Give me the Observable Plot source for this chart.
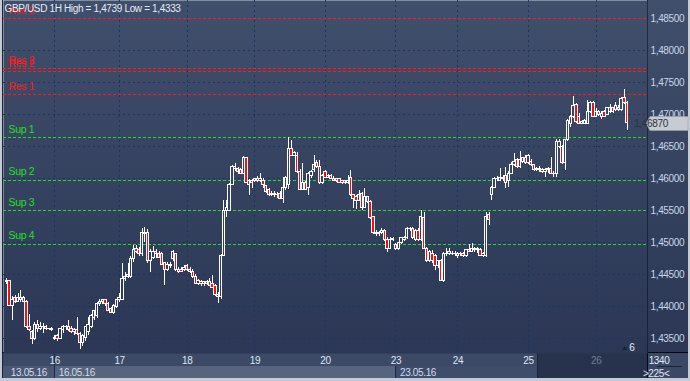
<!DOCTYPE html>
<html><head><meta charset="utf-8">
<script src="https://cdn.jsdelivr.net/npm/d3@7"></script>
<script src="https://cdn.jsdelivr.net/npm/@observablehq/plot@0.6"></script>
<style>html,body{margin:0;padding:0;background:#c5cbd5;overflow:hidden}#chart svg{display:block}</style>
</head><body><div id="chart"></div>
<script>
const title = "GBP/USD 1H High = 1,4739 Low = 1,4333";
const opens = [
1.4438,1.4440,1.4402,1.4413,1.4408,1.4411,1.4413,1.4408,1.4368,1.4361,
1.4349,1.4371,1.4366,1.4368,1.4369,1.4365,1.4365,1.4349,1.4354,1.4350,
1.4363,1.4368,1.4369,1.4366,1.4360,1.4363,1.4357,1.4343,1.4352,1.4360,
1.4368,1.4382,1.4385,1.4405,1.4408,1.4410,1.4405,1.4396,1.4391,1.4400,
1.4410,1.4411,1.4443,1.4446,1.4447,1.4475,1.4491,1.4488,1.4482,1.4513,
1.4516,1.4471,1.4477,1.4485,1.4483,1.4482,1.4468,1.4457,1.4466,1.4474,
1.4482,1.4458,1.4458,1.4457,1.4463,1.4458,1.4454,1.4447,1.4436,1.4438,
1.4436,1.4438,1.4438,1.4435,1.4432,1.4418,1.4416,1.4480,1.4550,1.4550,
1.4591,1.4616,1.4615,1.4613,1.4608,1.4632,1.4597,1.4593,1.4597,1.4599,
1.4597,1.4596,1.4588,1.4582,1.4574,1.4577,1.4574,1.4577,1.4569,1.4585,
1.4590,1.4647,1.4636,1.4636,1.4611,1.4583,1.4594,1.4585,1.4605,1.4613,
1.4624,1.4618,1.4594,1.4610,1.4602,1.4605,1.4600,1.4597,1.4599,1.4594,
1.4596,1.4593,1.4602,1.4574,1.4572,1.4566,1.4577,1.4555,1.4571,1.4563,
1.4540,1.4515,1.4513,1.4516,1.4519,1.4505,1.4491,1.4505,1.4497,1.4490,
1.4499,1.4504,1.4507,1.4521,1.4522,1.4505,1.4519,1.4504,1.4538,1.4491,
1.4471,1.4483,1.4479,1.4463,1.4471,1.4441,1.4482,1.4483,1.4483,1.4482,
1.4482,1.4482,1.4483,1.4479,1.4488,1.4486,1.4490,1.4488,1.4488,1.4480,
1.4480,1.4543,1.4574,1.4586,1.4599,1.4597,1.4602,1.4605,1.4597,1.4608,
1.4621,1.4629,1.4618,1.4627,1.4633,1.4624,1.4627,1.4621,1.4613,1.4616,
1.4613,1.4611,1.4613,1.4615,1.4608,1.4607,1.4649,1.4649,1.4624,1.4660,
1.4685,1.4696,1.4715,1.4697,1.4686,1.4686,1.4686,1.4704,1.4718,1.4697,
1.4704,1.4697,1.4704,1.4700,1.4705,1.4710,1.4707,1.4711,1.4707,1.4727,1.4718];
const highs = [
1.4444,1.4441,1.4416,1.4418,1.4421,1.4425,1.4416,1.4410,1.4388,1.4363,
1.4375,1.4379,1.4375,1.4374,1.4371,1.4366,1.4368,1.4355,1.4357,1.4366,
1.4371,1.4371,1.4379,1.4369,1.4366,1.4383,1.4360,1.4357,1.4369,1.4383,
1.4388,1.4394,1.4407,1.4411,1.4411,1.4411,1.4407,1.4399,1.4404,1.4411,
1.4421,1.4468,1.4454,1.4468,1.4479,1.4496,1.4496,1.4493,1.4522,1.4524,
1.4521,1.4490,1.4494,1.4490,1.4486,1.4485,1.4469,1.4469,1.4469,1.4488,
1.4483,1.4461,1.4461,1.4465,1.4466,1.4461,1.4458,1.4450,1.4443,1.4441,
1.4440,1.4441,1.4444,1.4449,1.4435,1.4422,1.4482,1.4566,1.4566,1.4593,
1.4621,1.4624,1.4618,1.4616,1.4635,1.4633,1.4599,1.4599,1.4600,1.4604,
1.4608,1.4600,1.4590,1.4585,1.4580,1.4580,1.4579,1.4580,1.4602,1.4604,
1.4664,1.4660,1.4643,1.4641,1.4615,1.4624,1.4596,1.4610,1.4613,1.4636,
1.4629,1.4629,1.4607,1.4613,1.4607,1.4607,1.4604,1.4600,1.4600,1.4597,
1.4597,1.4605,1.4613,1.4575,1.4574,1.4582,1.4579,1.4585,1.4572,1.4566,
1.4541,1.4519,1.4518,1.4522,1.4521,1.4508,1.4508,1.4508,1.4499,1.4500,
1.4508,1.4510,1.4524,1.4524,1.4524,1.4521,1.4522,1.4550,1.4547,1.4493,
1.4488,1.4488,1.4482,1.4472,1.4474,1.4485,1.4491,1.4491,1.4486,1.4486,
1.4485,1.4485,1.4485,1.4488,1.4497,1.4499,1.4493,1.4493,1.4491,1.4485,
1.4547,1.4547,1.4588,1.4602,1.4604,1.4616,1.4605,1.4618,1.4611,1.4625,
1.4640,1.4632,1.4643,1.4633,1.4636,1.4638,1.4630,1.4622,1.4618,1.4619,
1.4616,1.4616,1.4618,1.4633,1.4611,1.4661,1.4661,1.4652,1.4661,1.4693,
1.4699,1.4729,1.4718,1.4702,1.4691,1.4693,1.4722,1.4721,1.4721,1.4710,
1.4707,1.4705,1.4707,1.4711,1.4716,1.4711,1.4719,1.4715,1.4727,1.4739,1.4721];
const lows = [
1.4435,1.4400,1.4379,1.4405,1.4407,1.4407,1.4407,1.4366,1.4361,1.4341,
1.4347,1.4360,1.4363,1.4358,1.4363,1.4363,1.4361,1.4347,1.4346,1.4349,
1.4358,1.4363,1.4361,1.4358,1.4355,1.4355,1.4333,1.4338,1.4346,1.4355,
1.4366,1.4379,1.4382,1.4400,1.4404,1.4400,1.4393,1.4390,1.4388,1.4397,
1.4407,1.4410,1.4440,1.4444,1.4444,1.4469,1.4483,1.4479,1.4479,1.4500,
1.4468,1.4454,1.4474,1.4475,1.4475,1.4465,1.4433,1.4455,1.4460,1.4471,
1.4455,1.4452,1.4454,1.4455,1.4455,1.4452,1.4444,1.4435,1.4433,1.4432,
1.4432,1.4433,1.4432,1.4429,1.4416,1.4405,1.4411,1.4479,1.4540,1.4549,
1.4590,1.4611,1.4607,1.4607,1.4607,1.4593,1.4574,1.4585,1.4594,1.4594,
1.4594,1.4585,1.4577,1.4572,1.4572,1.4571,1.4569,1.4568,1.4561,1.4582,
1.4583,1.4635,1.4635,1.4608,1.4582,1.4582,1.4582,1.4574,1.4600,1.4610,
1.4616,1.4591,1.4591,1.4600,1.4600,1.4599,1.4596,1.4594,1.4593,1.4591,
1.4591,1.4591,1.4572,1.4554,1.4552,1.4565,1.4550,1.4554,1.4561,1.4536,
1.4513,1.4510,1.4510,1.4513,1.4502,1.4485,1.4490,1.4502,1.4488,1.4488,
1.4497,1.4502,1.4505,1.4518,1.4505,1.4502,1.4502,1.4502,1.4490,1.4469,
1.4469,1.4468,1.4457,1.4460,1.4440,1.4438,1.4479,1.4480,1.4480,1.4479,
1.4475,1.4479,1.4477,1.4477,1.4485,1.4485,1.4485,1.4483,1.4479,1.4477,
1.4477,1.4527,1.4566,1.4585,1.4596,1.4596,1.4596,1.4585,1.4586,1.4607,
1.4619,1.4616,1.4616,1.4624,1.4622,1.4622,1.4619,1.4611,1.4611,1.4610,
1.4608,1.4602,1.4608,1.4607,1.4602,1.4602,1.4647,1.4622,1.4613,1.4658,
1.4680,1.4694,1.4686,1.4685,1.4685,1.4685,1.4685,1.4702,1.4696,1.4696,
1.4697,1.4693,1.4696,1.4699,1.4702,1.4702,1.4705,1.4705,1.4705,1.4716,1.4675];
const closes = [
1.4441,1.4402,1.4411,1.4408,1.4413,1.4413,1.4408,1.4368,1.4363,1.4349,
1.4371,1.4366,1.4368,1.4369,1.4365,1.4366,1.4364,1.4352,1.4349,1.4365,
1.4368,1.4369,1.4363,1.4360,1.4363,1.4357,1.4343,1.4355,1.4368,1.4371,
1.4385,1.4393,1.4405,1.4408,1.4410,1.4404,1.4394,1.4391,1.4402,1.4410,
1.4413,1.4443,1.4447,1.4449,1.4475,1.4488,1.4486,1.4482,1.4515,1.4516,
1.4471,1.4486,1.4486,1.4482,1.4477,1.4466,1.4457,1.4466,1.4463,1.4485,
1.4458,1.4455,1.4455,1.4461,1.4457,1.4454,1.4447,1.4436,1.4440,1.4436,
1.4438,1.4436,1.4433,1.4430,1.4418,1.4415,1.4480,1.4550,1.4555,1.4590,
1.4618,1.4618,1.4610,1.4608,1.4632,1.4594,1.4590,1.4597,1.4599,1.4597,
1.4600,1.4590,1.4579,1.4574,1.4577,1.4574,1.4575,1.4569,1.4585,1.4602,
1.4647,1.4636,1.4640,1.4610,1.4583,1.4593,1.4583,1.4607,1.4611,1.4622,
1.4618,1.4593,1.4604,1.4602,1.4605,1.4600,1.4597,1.4599,1.4594,1.4596,
1.4593,1.4597,1.4574,1.4568,1.4566,1.4574,1.4555,1.4571,1.4563,1.4538,
1.4515,1.4513,1.4516,1.4519,1.4504,1.4491,1.4505,1.4506,1.4490,1.4499,
1.4507,1.4508,1.4521,1.4522,1.4507,1.4518,1.4504,1.4540,1.4491,1.4471,
1.4485,1.4471,1.4463,1.4471,1.4441,1.4482,1.4483,1.4485,1.4482,1.4483,
1.4480,1.4483,1.4479,1.4488,1.4486,1.4490,1.4488,1.4490,1.4480,1.4482,
1.4540,1.4536,1.4585,1.4600,1.4600,1.4602,1.4599,1.4594,1.4608,1.4622,
1.4627,1.4618,1.4629,1.4632,1.4624,1.4635,1.4621,1.4613,1.4616,1.4613,
1.4611,1.4613,1.4615,1.4608,1.4607,1.4658,1.4658,1.4624,1.4660,1.4691,
1.4697,1.4713,1.4688,1.4686,1.4688,1.4691,1.4704,1.4718,1.4697,1.4704,
1.4699,1.4702,1.4697,1.4710,1.4711,1.4704,1.4713,1.4707,1.4725,1.4718,1.4687];
const yTicks = [1.435,1.440,1.445,1.450,1.455,1.460,1.465,1.470,1.475,1.480,1.485];
const dayLabels = ["16","17","18","19","20","23","24","25","26"];
const dayStartBars = [17,40,64,88,113,138,160,185,209];
const weekLabels = ["13.05.16","16.05.16","23.05.16"];
const weekStartBars = [0,17,138];
const levelNames = ["Res 3","Res 2","Res 2","Res 1","Sup 1","Sup 2","Sup 3","Sup 4"];
const levelValues = [1.4850,1.4772,1.4768,1.4731,1.4664,1.4598,1.4550,1.4498];
const levelColors = ["#ff1a1a","#ff1a1a","#ff1a1a","#ff1a1a","#1fe01f","#1fe01f","#1fe01f","#1fe01f"];
const barCountTexts = ["1340", ">225<"];
const indicatorText = "6";

const bars = opens.map((o, i) => ({i, open: o, high: highs[i], low: lows[i], close: closes[i]}));
const bull = bars.filter(d => d.close >= d.open);
const bear = bars.filter(d => d.close < d.open);
const days = dayLabels.map((label, k) => ({label, bar: dayStartBars[k], last: k === dayLabels.length - 1}));
const weeks = weekLabels.map((label, k) => ({label, bar: weekStartBars[k]}));
const levels = levelNames.map((name, k) => ({name, value: levelValues[k], color: levelColors[k]}));
const fmt = d => d.toFixed(5).replace(".", ",");
const FONT = "'Liberation Sans', Arial, sans-serif";

const plot = Plot.plot({
  width: 690, height: 381,
  marginLeft: 3, marginRight: 43, marginTop: 0, marginBottom: 28,
  x: {domain: [-1.17, 227.2], axis: null},
  y: {domain: [1.432703, 1.487859], axis: null},
  color: {type: "identity"},
  style: {background: "transparent", fontFamily: FONT, overflow: "visible", letterSpacing: "-0.35px"},
  marks: [
    Plot.frame({fill: "url(#plotBg)", stroke: "none"}),
    Plot.ruleY(yTicks, {stroke: "#1b3562", strokeDasharray: "2,3", shapeRendering: "crispEdges"}),
    Plot.ruleX(days, {x: "bar", stroke: "#1b3562", strokeDasharray: "2,3", shapeRendering: "crispEdges"}),
    Plot.ruleY(levels, {y: "value", stroke: "color", strokeDasharray: "3,2", shapeRendering: "crispEdges"}),
    Plot.text(levels, {y: "value", text: "name", fill: "color", frameAnchor: "left", dx: 5, dy: -8, textAnchor: "start", lineAnchor: "middle", fontSize: 10.5, ariaLabel: "levels"}),
    Plot.ruleX(bars, {x: "i", y1: "low", y2: "high", stroke: "white", strokeWidth: 1, shapeRendering: "crispEdges"}),
    Plot.rect(bull, {x1: d => d.i - 0.5, x2: d => d.i + 0.5, y1: "open", y2: "close", insetLeft: 0.25, insetRight: 0.25, fill: "url(#plotBg)", stroke: "white", strokeWidth: 1, shapeRendering: "crispEdges"}),
    Plot.rect(bear, {x1: d => d.i - 0.5, x2: d => d.i + 0.5, y1: "open", y2: "close", insetLeft: 0.25, insetRight: 0.25, fill: "#f01010", stroke: "white", strokeWidth: 1, shapeRendering: "crispEdges"}),
    Plot.axisY({ticks: yTicks, anchor: "right", tickSize: 0, tickPadding: 3, tickFormat: fmt, color: "#c9d6ea", fontSize: 10, label: null}),
    Plot.text(days, {x: "bar", text: "label", frameAnchor: "bottom", dy: 7, lineAnchor: "middle", fontSize: 10, fill: d => d.last ? "#6d7c98" : "#dce6f5"}),
    Plot.text(weeks, {x: "bar", text: "label", frameAnchor: "bottom", dx: 4, dy: 19, textAnchor: "start", lineAnchor: "middle", fontSize: 10, fill: "#d3dcea"}),
    Plot.text([title], {text: d => d, frameAnchor: "top-left", dx: 1, dy: 8, textAnchor: "start", lineAnchor: "middle", fontSize: 10, fill: "#e6ecf6"}),
    Plot.text([indicatorText], {text: d => d, frameAnchor: "bottom-right", dx: -13, dy: -6, lineAnchor: "middle", fontSize: 10, fill: "#e6ecf6"}),
    Plot.text([barCountTexts[0]], {text: d => d, frameAnchor: "bottom-right", dx: 22, dy: 7, lineAnchor: "middle", fontSize: 10, fill: "#e0e8f3"}),
    Plot.text([barCountTexts[1]], {text: d => d, frameAnchor: "bottom-right", dx: 22, dy: 20, lineAnchor: "middle", fontSize: 10, fill: "#e0e8f3"})
  ]
});

const svg = d3.select(plot);
svg.selectAll("g[aria-label='levels'] text").attr("letter-spacing", "0.2px");
const defs = svg.insert("defs", ":first-child");
const grad = defs.append("linearGradient").attr("id", "plotBg").attr("gradientUnits", "userSpaceOnUse")
  .attr("x1", 0).attr("y1", 0).attr("x2", 0).attr("y2", 352);
grad.append("stop").attr("offset", 0).attr("stop-color", "#404f6c");
grad.append("stop").attr("offset", 1).attr("stop-color", "#2b3754");

const xs = plot.scale("x"), ys = plot.scale("y");
const bg = svg.insert("g", "defs + *");
bg.append("rect").attr("x", 0).attr("y", 0).attr("width", 690).attr("height", 381).attr("fill", "#c5cbd5");
bg.append("rect").attr("x", 648).attr("y", 0).attr("width", 40).attr("height", 352).attr("fill", "url(#plotBg)");
bg.append("rect").attr("x", 3).attr("y", 353).attr("width", 644).attr("height", 13).attr("fill", "#3c4a67");
const wx = weekStartBars.map(b => Math.round(xs.apply(b)));
const secColors = ["#4a5874", "#56647e", "#3e4d6a"];
const secEdges = [3, wx[1], wx[2], 537];
for (let k = 0; k < 3; k++) bg.append("rect").attr("x", secEdges[k]).attr("y", 366).attr("width", secEdges[k+1] - secEdges[k]).attr("height", 12).attr("fill", secColors[k]);
bg.append("rect").attr("x", 537).attr("y", 353).attr("width", 110).attr("height", 25).attr("fill", "#27334d");
bg.append("rect").attr("x", 537).attr("y", 353).attr("width", 1).attr("height", 25).attr("fill", "#1a2336");
bg.append("rect").attr("x", wx[1]).attr("y", 353).attr("width", 1).attr("height", 25).attr("fill", "#1d2942");
bg.append("rect").attr("x", wx[2]).attr("y", 366).attr("width", 1).attr("height", 12).attr("fill", "#1d2942");
bg.append("rect").attr("x", 648).attr("y", 353).attr("width", 40).attr("height", 25).attr("fill", "#3a4866");
bg.append("rect").attr("x", 657).attr("y", 366).attr("width", 25).attr("height", 1).attr("fill", "#1c2436");
bg.append("rect").attr("x", 2).attr("y", 0).attr("width", 1).attr("height", 378).attr("fill", "#1c2333");
bg.append("rect").attr("x", 647).attr("y", 0).attr("width", 1).attr("height", 378).attr("fill", "#07090e");
bg.append("rect").attr("x", 2).attr("y", 352).attr("width", 686).attr("height", 1).attr("fill", "#07090e");

// overlays: indicator triangle and last price tag
const fg = svg.append("g");
fg.append("path").attr("d", "M622,350 L625,346 L628,350 Z").attr("fill", "#1a2336");
const last = closes[closes.length - 1];
const py = Math.round(ys.apply(last)) + 0.5;
fg.append("polygon")
  .attr("points", `646,${py} 650,${py-7} 688,${py-7} 688,${py+7} 650,${py+7}`)
  .style("fill", "#c8cbd0").style("stroke", "#9aa0aa").style("stroke-width", "0.6");
fg.append("text").attr("x", 651).attr("y", py).attr("dy", "0.35em")
  .style("font-size", "10px").style("font-family", FONT).style("letter-spacing", "-0.35px")
  .style("fill", "#2a3242").text(fmt(last));

document.getElementById("chart").appendChild(plot);
</script>
</body></html>
